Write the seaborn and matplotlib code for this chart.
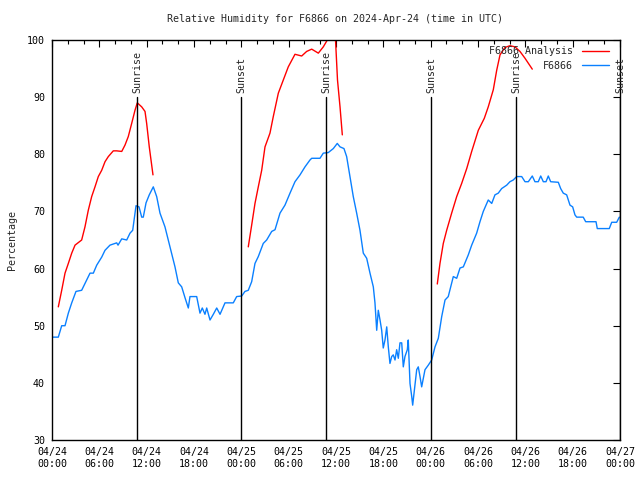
import pandas as pd
import numpy as np
import matplotlib
matplotlib.use('Agg')
import matplotlib.pyplot as plt
import matplotlib.dates as mdates
from matplotlib.lines import Line2D
import seaborn as sns

# hours since 2024-04-24 00:00 UTC
obs_hours = [0.0, 0.8, 1.23, 1.65, 2.07, 2.5, 3.04, 3.76, 4.4, 4.82, 5.24, 5.67, 6.3, 6.72, 7.35,
             8.2, 8.37, 8.84, 9.47, 9.89, 10.23, 10.65, 11.03, 11.37, 11.57, 11.92, 12.33, 12.84,
             13.27, 13.69, 14.32, 14.96, 15.59, 16.01, 16.44, 16.86, 17.28, 17.49, 18.34, 18.76,
             19.05, 19.39, 19.61, 20.03, 20.45, 20.88, 21.3, 21.93, 22.98, 23.41, 24.05, 24.46,
             24.88, 25.31, 25.73, 26.15, 26.78, 27.21, 27.85, 28.27, 28.9, 29.53, 30.17, 30.8,
             31.44, 32.07, 32.7, 32.92, 33.97, 34.39, 35.02, 35.66, 36.16, 36.51, 37.01, 37.35,
             37.77, 38.19, 38.62, 39.04, 39.46, 39.89, 40.31, 40.73, 40.94, 41.16, 41.36, 41.58,
             41.79, 41.99, 42.21, 42.43, 42.63, 42.84, 43.06, 43.26, 43.48, 43.69, 43.9, 44.11,
             44.33, 44.53, 44.74, 45.04, 45.16, 45.38, 45.6, 45.72, 46.01, 46.23, 46.43, 46.65,
             46.86, 47.07, 47.28, 47.7, 48.13, 48.55, 48.97, 49.4, 49.82, 50.23, 50.67, 50.87,
             51.3, 51.72, 52.14, 52.77, 53.2, 53.83, 54.25, 54.67, 55.3, 55.74, 56.15, 56.57,
             57.0, 57.64, 58.05, 58.47, 58.9, 59.54, 59.96, 60.38, 60.88, 61.22, 61.64, 61.95,
             62.28, 62.62, 62.91, 63.21, 64.18, 64.48, 64.81, 65.24, 65.66, 66.0, 66.29, 66.51,
             67.34, 67.65, 68.96, 69.12, 70.64, 70.95, 71.58, 71.91]
obs_rh = [48, 48, 50, 50, 52.2, 54, 56, 56.2, 58, 59.2, 59.2, 60.6, 62, 63.2, 64.1,
          64.5, 64.1, 65.2, 65, 66.2, 66.7, 71, 70.8, 69, 69, 71.5, 72.9, 74.3,
          72.6, 69.7, 67.3, 63.8, 60.3, 57.5, 56.8, 54.9, 53.1, 55.1, 55.1, 52.2,
          53.1, 52, 53.1, 51, 52, 53.1, 52, 54, 54, 55.1, 55.2, 56,
          56.2, 57.7, 60.9, 62.1, 64.4, 65, 66.5, 66.8, 69.7, 71.1, 73.2, 75.2,
          76.4, 77.8, 79, 79.3, 79.3, 80.2, 80.3, 81, 81.9, 81.3, 81, 79.6,
          76.1, 72.6, 69.7, 66.7, 62.7, 61.8, 59.2, 56.8, 54, 49.2, 52.7, 51,
          49.2, 46.1, 47.5, 49.8, 46.3, 43.4, 44.6, 44.9, 44, 45.8, 44.3, 47,
          47, 42.8, 44.6, 45.8, 47.5, 39.9, 37.6, 36.1, 39.6, 42.3, 42.8, 41.1,
          39.3, 40.8, 42.3, 43.1, 44, 46.3, 47.8, 51.6, 54.5, 55.1, 57.5, 58.6,
          58.3, 60.1, 60.3, 62.4, 64.1, 66.2, 68.2, 70, 72, 71.4, 72.9, 73.2,
          74, 74.6, 75.2, 75.5, 76.1, 76.1, 75.2, 75.2, 76.2, 75.2, 75.2, 76.2,
          75.2, 75.2, 76.2, 75.2, 75.1, 74, 73.2, 72.9, 71.1, 70.8, 69.4, 69,
          69, 68.2, 68.2, 67, 67, 68.1, 68.1, 69]

ana1_hours = [0.8, 1.23, 1.65, 2.07, 2.5, 2.92, 3.76, 4.18, 4.6, 5.03, 5.45, 5.87, 6.3, 6.72,
              7.14, 7.77, 8.2, 8.84, 9.25, 9.67, 10.1, 10.52, 10.81, 11.37, 11.79, 12.0, 12.33, 12.8]
ana1_rh = [53.3, 56.2, 59.2, 60.9, 62.7, 64.1, 65, 67.3, 70.2, 72.6, 74.3, 76.1, 77.2, 78.7,
           79.6, 80.6, 80.6, 80.5, 81.6, 83.1, 85.4, 87.7, 89, 88.3, 87.5, 85.4, 81.3, 76.4]
ana2_hours = [24.88, 25.31, 25.73, 26.15, 26.58, 27.0, 27.63, 28.05, 28.69, 29.32, 29.95, 30.8,
              31.65, 32.28, 32.92, 33.76, 34.39, 34.9, 35.37, 35.94, 36.19, 36.51, 36.8]
ana2_rh = [63.8, 67.6, 71.4, 74.3, 77.2, 81.3, 83.7, 86.6, 90.7, 93, 95.3, 97.5,
           97.2, 98, 98.4, 97.7, 98.8, 100, 101.5, 100, 93, 88.3, 83.4]
ana3_hours = [48.84, 49.18, 49.6, 50.03, 50.66, 51.3, 51.93, 52.57, 53.2, 54.04, 54.8, 55.3,
              55.94, 56.37, 56.79, 57.42, 58.05, 58.69, 59.32, 59.96, 60.88]
ana3_rh = [57.3, 60.9, 64.4, 66.7, 69.7, 72.6, 74.9, 77.5, 80.5, 84.2, 86.3, 88.3,
           91.3, 94.7, 97.4, 98.7, 99, 98.8, 98, 96.8, 94.9]

sun_times = ['2024-04-24 10:46', '2024-04-24 23:58', '2024-04-25 10:44',
             '2024-04-26 00:02', '2024-04-26 10:49', '2024-04-27 00:00']
sun_labels = ['Sunrise', 'Sunset', 'Sunrise', 'Sunset', 'Sunrise', 'Sunset']

start = pd.Timestamp('2024-04-24 00:00')
red = '#ff0000'
blue = '#0a80ff'


def to_df(hours, rh, seg=0):
    return pd.DataFrame({'time': start + pd.to_timedelta(hours, unit='h'), 'rh': rh, 'seg': seg})


df_obs = to_df(obs_hours, obs_rh)
df_ana = pd.concat([to_df(ana1_hours, ana1_rh, 1),
                    to_df(ana2_hours, ana2_rh, 2),
                    to_df(ana3_hours, ana3_rh, 3)], ignore_index=True)

sns.set_style('white')
plt.rcParams['font.family'] = ['DejaVu Sans Mono']
plt.rcParams['font.size'] = 7.2
fs = 7.2

fig = plt.figure(figsize=(6.4, 4.8), dpi=100)
ax = fig.add_axes([52 / 640, 40 / 480, 568 / 640, 400 / 480])

# analysis is drawn in 3 pieces (gaps between runs)
sns.lineplot(data=df_ana, x='time', y='rh', units='seg', estimator=None, color=red,
             linewidth=1.0, ax=ax, legend=False)
sns.lineplot(data=df_obs, x='time', y='rh', estimator=None, color=blue,
             linewidth=1.0, ax=ax, legend=False)

for t, lab in zip(sun_times, sun_labels):
    ts = pd.Timestamp(t)
    ax.plot([ts, ts], [30, 90], color='black', linewidth=1.0)
    ax.text(ts, 90.8, lab, rotation=90, ha='center', va='bottom', fontsize=fs)

ax.set_xlim(start, pd.Timestamp('2024-04-27 00:00'))
ax.set_ylim(30, 100)
ax.set_yticks(np.arange(30, 101, 10))
ax.xaxis.set_major_locator(mdates.HourLocator(byhour=[0, 6, 12, 18]))
ax.xaxis.set_minor_locator(mdates.HourLocator(interval=2))
ax.xaxis.set_major_formatter(mdates.DateFormatter('%m/%d\n%H:%M'))
ax.tick_params(which='both', direction='in', top=True, right=True, colors='black', labelsize=fs)
ax.tick_params(which='major', length=5, width=0.8, pad=5)
ax.tick_params(which='minor', length=3, width=0.8)
for s in ax.spines.values():
    s.set_color('black')
    s.set_linewidth(1.0)
ax.set_xlabel('')
ax.set_ylabel('')

handles = [Line2D([], [], color=red, linewidth=1.0), Line2D([], [], color=blue, linewidth=1.0)]
ax.legend(handles, ['F6866 Analysis', 'F6866'], loc='upper right', bbox_to_anchor=(0.9865, 0.992),
          frameon=False, markerfirst=False, handlelength=2.7, handletextpad=0.9,
          borderaxespad=0.0, borderpad=0.3, labelspacing=0.45, fontsize=fs)

fig.text(335 / 640, 1 - 19 / 480, 'Relative Humidity for F6866 on 2024-Apr-24 (time in UTC)',
         ha='center', va='center', fontsize=fs)
fig.text(12 / 640, 0.5, 'Percentage', rotation=90, ha='center', va='center', fontsize=fs)

fig.savefig('out.png', dpi=100)
